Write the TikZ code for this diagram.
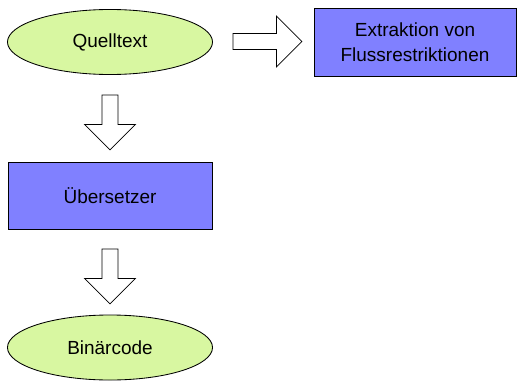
\documentclass[tikz,border=0pt]{standalone}
\usepackage{fontspec}
\setmainfont{Liberation Sans}
\usetikzlibrary{shapes.geometric,shapes.arrows}
\definecolor{srcgreen}{RGB}{216,247,161}
\definecolor{stepblue}{RGB}{128,128,255}

\begin{document}
\begin{tikzpicture}[
  x=0.025cm, y=-0.025cm,
  every node/.style={font=\fontsize{13.5}{17.8}\selectfont},
  data/.style={draw, ellipse, fill=srcgreen, line width=0.6pt, inner sep=0pt, minimum width=5.125cm, minimum height=1.625cm, align=center},
  tool/.style={draw, rectangle, fill=stepblue, line width=0.6pt, inner sep=0pt, minimum width=5.05cm, minimum height=1.7cm, align=center},
  flow/.style={draw, single arrow, fill=white, line width=0.5pt, inner sep=0.19cm, single arrow head extend=0.44cm, minimum height=1.375cm}
]
  \useasboundingbox (0,0) rectangle (517,381);

  % Source and extraction
  \node[data] (quelltext) at (110,42) {Quelltext};
  \node[tool] (extraktion) at (415,42) {Extraktion von\\Flussrestriktionen};

  % Compiler
  \node[tool, minimum width=5.1cm, minimum height=1.675cm] (uebersetzer) at (110,195.5) {Übersetzer};

  % Binary
  \node[data] (binaer) at (110,347.5) {Binärcode};

  % Block arrows
  \node[flow, minimum height=1.725cm] (pfeilrechts) at (263.5,41.5) {};
  \node[flow, shape border rotate=270] (pfeilquell) at (110,118.5) {};
  \node[flow, shape border rotate=270] (pfeilbinaer) at (110,272.5) {};
\end{tikzpicture}
\end{document}
